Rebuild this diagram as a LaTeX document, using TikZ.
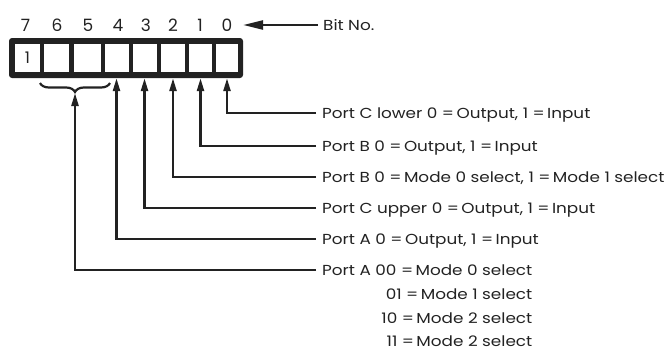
\documentclass[tikz,border=0pt]{standalone}
\usepackage{fontspec}
\setmainfont{Poppins}[FakeStretch=1.16]
\newfontfamily\numfont{Poppins}
\usetikzlibrary{arrows.meta,decorations.pathreplacing,calc}
\definecolor{ink}{HTML}{222222}
\begin{document}
\begin{tikzpicture}[x=1pt,y=-1pt,
  conn/.style={draw=ink, line width=2.4pt, shorten <=6pt, -{Triangle[length=13pt,width=7pt]}},
  lbl/.style={anchor=west, inner sep=0pt, text height=10pt, text depth=0pt, font=\fontsize{14.5}{16}\selectfont, text=ink},
  lblr/.style={lbl, anchor=east},
  bitnum/.style={font=\numfont\fontsize{17}{19}\selectfont, text=ink, inner sep=0pt},
  cell/.style={fill=white, minimum height=28pt, inner sep=0pt, font=\numfont\fontsize{16}{18}\selectfont, text=ink},
]
\useasboundingbox (0,0) rectangle (670,351);
% register
\node (reg) [fill=ink, rounded corners=3pt, minimum width=234pt, minimum height=40pt, inner sep=0pt] at (126,58) {};
\node (c7) [cell, minimum width=25pt] at (27.5,58) {1};
\node (c6) [cell, minimum width=25pt] at (56.5,58) {};
\node (c5) [cell, minimum width=27pt] at (87,58) {};
\node (c4) [cell, minimum width=24pt] at (116.5,58) {};
\node (c3) [cell, minimum width=24pt] at (144.5,58) {};
\node (c2) [cell, minimum width=24pt] at (173,58) {};
\node (c1) [cell, minimum width=23pt] at (200.5,58) {};
\node (c0) [cell, minimum width=22pt] at (227,58) {};
% bit numbers
\node (n7) [bitnum] at (25.5,25) {7};
\node (n6) [bitnum] at (57,25) {6};
\node (n5) [bitnum] at (88,25) {5};
\node (n4) [bitnum] at (118,25) {4};
\node (n3) [bitnum] at (146,25) {3};
\node (n2) [bitnum] at (173,25) {2};
\node (n1) [bitnum] at (200,25) {1};
\node (n0) [bitnum] at (227,25) {0};
\node (bitno) [lbl] at (323,25) {Bit No.};
\draw[draw=ink, line width=2.4pt, shorten <=5pt, -{Triangle[length=20pt,width=9pt]}] (bitno.west) -- (bitno.west -| reg.east);
% labels
\node (t0) [lbl] at (322,113) {Port C lower 0 =\,Output, 1 =\,Input};
\node (t1) [lbl] at (322,146) {Port B 0 =\,Output, 1 =\,Input};
\node (t2) [lbl] at (322,177) {Port B 0 =\,Mode 0 select, 1 =\,Mode 1 select};
\node (t3) [lbl] at (322,208) {Port C upper 0 =\,Output, 1 =\,Input};
\node (t4) [lbl] at (322,239) {Port A 0 =\,Output, 1 =\,Input};
\node (t5) [lbl] at (322,270) {Port A 00 =\,Mode 0 select};
\node (m1) [lblr] at ($(t5.east)+(0,24)$) {01 =\,Mode 1 select};
\node (m2) [lblr] at ($(t5.east)+(0,48)$) {10 =\,Mode 2 select};
\node (m3) [lblr] at ($(t5.east)+(0,71)$) {11 =\,Mode 2 select};
% brace
\coordinate (bl) at (40,83);
\coordinate (br) at (110,83);
\coordinate (bt) at (75,93);
\draw[draw=ink, line width=2.2pt, decorate, decoration={brace, amplitude=9pt}] (br) -- (bl);
% connectors
\draw[conn] (t0.west) -| (c0.south |- reg.south);
\draw[conn] (t1.west) -| (c1.south |- reg.south);
\draw[conn] (t2.west) -| (c2.south |- reg.south);
\draw[conn] (t3.west) -| (c3.south |- reg.south);
\draw[conn] (t4.west) -| (c4.south |- reg.south);
\draw[conn] (t5.west) -| (bt);
\end{tikzpicture}
\end{document}
